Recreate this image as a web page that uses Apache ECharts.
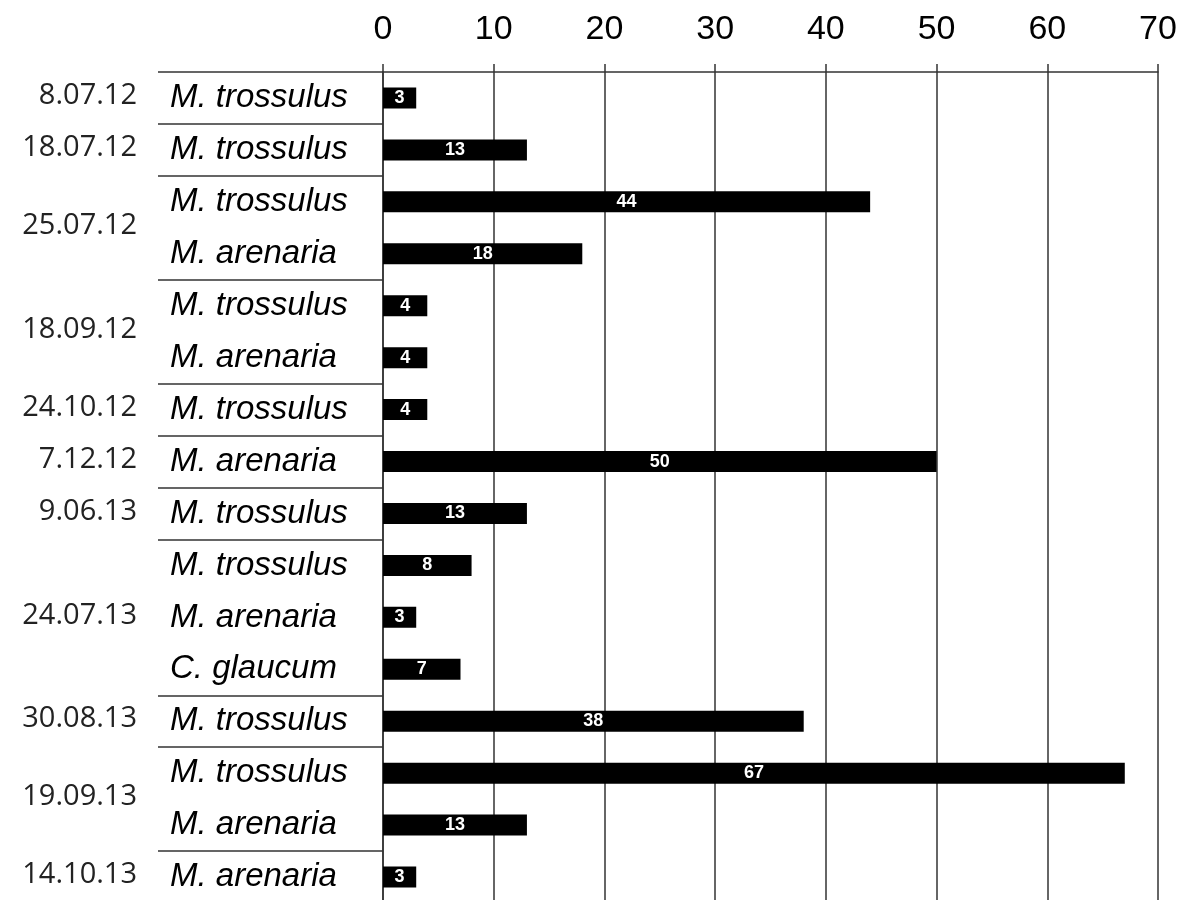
<!DOCTYPE html>
<html>
<head>
<meta charset="utf-8">
<script src="https://cdn.jsdelivr.net/npm/echarts@6/dist/echarts.min.js"></script>
<style>
html,body{margin:0;padding:0;background:#fff;overflow:hidden;}
#chart{width:1183px;height:903px;}
</style>
</head>
<body>
<div id="chart"></div>
<script>
// Rows (top to bottom)
const species = ['M. trossulus','M. trossulus','M. trossulus','M. arenaria','M. trossulus','M. arenaria','M. trossulus','M. arenaria','M. trossulus','M. trossulus','M. arenaria','C. glaucum','M. trossulus','M. trossulus','M. arenaria','M. arenaria'];
const values = [3, 13, 44, 18, 4, 4, 4, 50, 13, 8, 3, 7, 38, 67, 13, 3];
// Sampling dates and the row range (first, last index) each covers
const dates = ['8.07.12','18.07.12','25.07.12','18.09.12','24.10.12','7.12.12','9.06.13','24.07.13','30.08.13','19.09.13','14.10.13'];
const dateFirstRow = [0, 1, 2, 4, 6, 7, 8, 9, 12, 13, 15];
const dateLastRow  = [0, 1, 3, 5, 6, 7, 8, 11, 12, 14, 15];
const xTicks = [0, 10, 20, 30, 40, 50, 60, 70];

const rowIds = species.map((s, i) => String(i));
const chart = echarts.init(document.getElementById('chart'), null, {renderer: 'canvas'});
const lineColor = '#333';

chart.setOption({
  animation: false,
  backgroundColor: '#fff',
  grid: {left: 383, right: 25, top: 72, bottom: 0, containLabel: false},
  xAxis: {
    type: 'value', position: 'top',
    min: xTicks[0], max: xTicks[xTicks.length - 1], interval: 10,
    axisLine: {show: true, lineStyle: {color: lineColor, width: 1.5}},
    axisTick: {show: true, inside: false, length: 8, lineStyle: {color: lineColor, width: 1.5}},
    splitLine: {show: true, lineStyle: {color: lineColor, width: 1.5}},
    axisLabel: {margin: 25, fontSize: 34, color: '#000', fontFamily: '"Liberation Sans", Arial, sans-serif'}
  },
  yAxis: {
    type: 'category', inverse: true, data: rowIds,
    axisLine: {show: true, lineStyle: {color: lineColor, width: 1.5}},
    axisTick: {
      show: true, inside: false, length: 225, alignWithLabel: false,
      interval: function (index) { return dateFirstRow.indexOf(index) >= 0; },
      lineStyle: {color: lineColor, width: 1.5}
    },
    axisLabel: {
      interval: 0, margin: 213, align: 'left', fontSize: 33, fontStyle: 'italic', color: '#000',
      fontFamily: '"Liberation Sans", Arial, sans-serif',
      formatter: function (v) { return species[+v]; }
    },
    splitLine: {show: false}
  },
  series: [{
    type: 'bar', data: values, barWidth: 21,
    itemStyle: {color: '#000'},
    label: {
      show: true, position: 'inside', color: '#fff', fontWeight: 'bold', fontSize: 18,
      fontFamily: '"Liberation Sans Narrow", "Liberation Sans", Arial, sans-serif'
    }
  }]
});

const graphics = dates.map((d, k) => {
  const y1 = chart.convertToPixel({yAxisIndex: 0}, dateFirstRow[k]);
  const y2 = chart.convertToPixel({yAxisIndex: 0}, dateLastRow[k]);
  return {
    type: 'text', x: 137, y: (y1 + y2) / 2 - 2,
    style: {text: d, align: 'right', verticalAlign: 'middle', fill: '#222',
            font: '29px "Open Sans", "Noto Sans", sans-serif'}
  };
});
chart.setOption({graphic: graphics});
</script>
</body>
</html>
